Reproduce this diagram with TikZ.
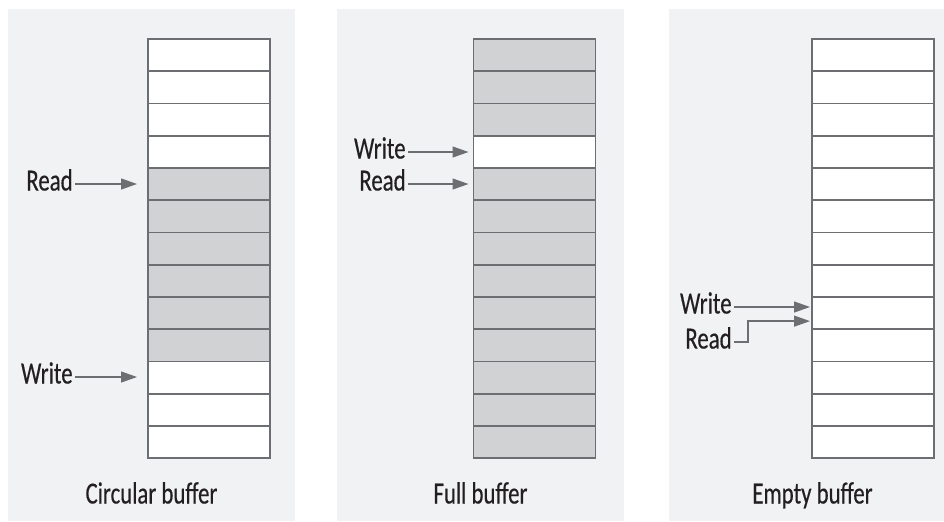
\documentclass[tikz,border=0pt]{standalone}
\usepackage{fontspec}
\setmainfont{Carlito}[FakeStretch=0.74, FakeBold=0.4]
\usetikzlibrary{arrows.meta,calc}

\definecolor{panelbg}{HTML}{F1F2F4}
\definecolor{usedgray}{HTML}{D1D2D4}
\definecolor{edgegray}{HTML}{6D6E71}
\definecolor{textdark}{HTML}{231F20}

\tikzset{
  freecell/.style={fill=white, draw=none,
    minimum width=61pt, minimum height=16.125pt, inner sep=0pt, outer sep=0pt},
  usedcell/.style={freecell, fill=usedgray},
  frame/.style={draw=edgegray, line width=0.8pt},
  lbl/.style={text=textdark, font=\fontsize{15.4}{18}\selectfont,
    text height=9.5pt, text depth=3pt, inner sep=1pt},
  ptr/.style={draw=edgegray, line width=0.65pt, -{Triangle[length=8pt,width=5.5pt]}},
}

\begin{document}
\begin{tikzpicture}[x=0.5pt, y=-0.5pt]
      \useasboundingbox (0, 0) rectangle (944, 521);

      % circular buffer
      \begin{scope}[shift={(8, 0)}]
        \fill [panelbg] (0, 9) rectangle (287, 521);
        \foreach \i in {1, 2, 3, 4, 11, 12, 13}
          \node [freecell] (c\i) at (201, {39 + (\i - 0.5) * 32.25}) {};
        \foreach \i in {5, ..., 10}
          \node [usedcell] (c\i) at (201, {39 + (\i - 0.5) * 32.25}) {};
        \draw [frame] (c1.north west) rectangle (c13.south east);
        \foreach \i in {1, ..., 12}
          \draw [frame] (c\i.south west) -- (c\i.south east);
        \node [lbl, anchor=east] (rdc) at (67, 184) {Read};
        \node [lbl, anchor=east] (wrc) at (67, 377) {Write};
        \draw [ptr, shorten >=5.5pt] (rdc.east) -- (rdc.east -| c5.west);
        \draw [ptr, shorten >=5.5pt] (wrc.east) -- (wrc.east -| c11.west);
        \node [lbl] (capc) at (143.5, 497) {Circular buffer};
      \end{scope}

      % full buffer
      \begin{scope}[shift={(337, 0)}]
        \fill [panelbg] (0, 9) rectangle (287, 521);
        \node [freecell] (f4) at (197.5, {39 + 3.5 * 32.25}) {};
        \foreach \i in {1, 2, 3, 5, 6, 7, 8, 9, 10, 11, 12, 13}
          \node [usedcell] (f\i) at (197.5, {39 + (\i - 0.5) * 32.25}) {};
        \draw [frame] (f1.north west) rectangle (f13.south east);
        \foreach \i in {1, ..., 12}
          \draw [frame] (f\i.south west) -- (f\i.south east);
        \node [lbl, anchor=east] (wrf) at (71, 152) {Write};
        \node [lbl, anchor=east] (rdf) at (71, 184) {Read};
        \draw [ptr, shorten >=2.5pt] (wrf.east) -- (wrf.east -| f4.west);
        \draw [ptr, shorten >=2.5pt] (rdf.east) -- (rdf.east -| f5.west);
        \node [lbl] (capf) at (143.5, 497) {Full buffer};
      \end{scope}

      % empty buffer
      \begin{scope}[shift={(669, 0)}]
        \fill [panelbg] (0, 9) rectangle (275, 521);
        \foreach \i in {1, ..., 13}
          \node [freecell] (e\i) at (204, {39 + (\i - 0.5) * 32.25}) {};
        \draw [frame] (e1.north west) rectangle (e13.south east);
        \foreach \i in {1, ..., 12}
          \draw [frame] (e\i.south west) -- (e\i.south east);
        \node [lbl, anchor=east] (wre) at (65, 307) {Write};
        \node [lbl, anchor=east] (rde) at (65, 342) {Read};
        \draw [ptr, shorten >=1pt] (wre.east) -- (wre.east -| e9.west);
        \draw [ptr, shorten >=1pt] (rde.east) -- ++(14, 0) |- ($(e9.west) + (0, 8)$);
        \node [lbl] (cape) at (143.5, 497) {Empty buffer};
      \end{scope}
    \end{tikzpicture}
\end{document}
